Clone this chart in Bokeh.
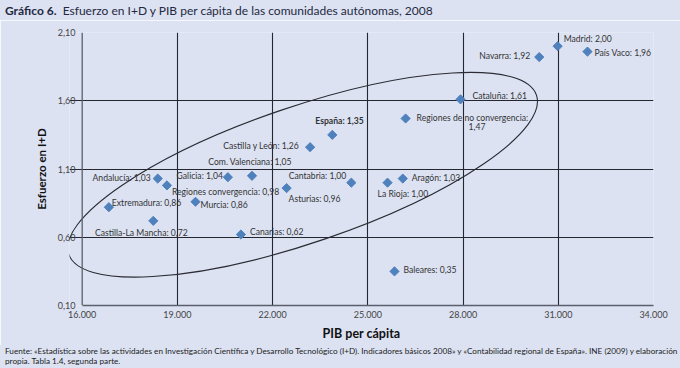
from bokeh.plotting import figure
from bokeh.models import ColumnDataSource, Range1d, FixedTicker, Span, Div
from bokeh.layouts import column
from bokeh.core.properties import value
from bokeh.embed import file_html
from bokeh.resources import INLINE

# ---------------- data ----------------
regiones = ["Madrid", "País Vaco", "Navarra", "Cataluña", "Regiones de no convergencia",
            "España", "Castilla y León", "Com. Valenciana", "Galicia", "Andalucía",
            "Regiones convergencia", "Cantabria", "Asturias", "Aragón", "La Rioja",
            "Extremadura", "Murcia", "Castilla-La Mancha", "Canarias", "Baleares"]
pib_per_capita = [30980, 31920, 30400, 27920, 26190,
                  23880, 23180, 21350, 20590, 18380,
                  18670, 24480, 22440, 26100, 25620,
                  16840, 19570, 18240, 21000, 25840]
esfuerzo_id = [2.00, 1.96, 1.92, 1.61, 1.47,
               1.35, 1.26, 1.05, 1.04, 1.03,
               0.98, 1.00, 0.96, 1.03, 1.00,
               0.82, 0.86, 0.72, 0.62, 0.35]
valor_rotulo = ["2,00", "1,96", "1,92", "1,61", "1,47",
                "1,35", "1,26", "1,05", "1,04", "1,03",
                "0,98", "1,00", "0,96", "1,03", "1,00",
                "0,86", "0,86", "0,72", "0,62", "0,35"]

x_ticks = [16000, 19000, 22000, 25000, 28000, 31000, 34000]
x_tick_labels = ["16.000", "19.000", "22.000", "25.000", "28.000", "31.000", "34.000"]
y_ticks = [0.10, 0.60, 1.10, 1.60, 2.10]
y_tick_labels = ["0,10", "0,60", "1,10", "1,60", "2,10"]

titulo_num = "Gráfico 6."
titulo = "Esfuerzo en I+D y PIB per cápita de las comunidades autónomas, 2008"
eje_x = "PIB per cápita"
eje_y = "Esfuerzo en I+D"
fuente_1 = ("Fuente: «Estadística sobre las actividades en Investigación Científica y Desarrollo "
            "Tecnológico (I+D). Indicadores básicos 2008» y «Contabilidad regional de España». "
            "INE (2009) y elaboración")
fuente_2 = "propia. Tabla 1.4, segunda parte."

# ellipse highlighting the convergence group (centre in data units, size in px)
elipse_x, elipse_y = 22945, 1.058
elipse_w, elipse_h, elipse_ang = 494, 136, 0.328

# ---------------- styles ----------------
FONT = "Lato"
BG = "#dce2f2"
TXT = "#333333"
MARK = "#4f81bd"
AXIS = "#5a5f6b"
GRID = "#24272f"

# label placement: (align, dx, dy) in screen px
placement = {
    "Madrid": ("left", 6, -7), "País Vaco": ("left", 7, 1), "Navarra": ("right", -9, -1),
    "Cataluña": ("left", 12, -3), "Regiones de no convergencia": ("left", 11, 0),
    "España": ("left", -17, -14), "Castilla y León": ("right", -11, -1),
    "Com. Valenciana": ("center", -2, -14), "Galicia": ("right", -5, -1),
    "Andalucía": ("right", -7, -1), "Regiones convergencia": ("left", 5, 7),
    "Cantabria": ("right", -5, -7), "Asturias": ("left", 2, 11), "Aragón": ("left", 9, -1),
    "La Rioja": ("left", -10, 11), "Extremadura": ("left", 3, -4), "Murcia": ("left", 5, 3),
    "Castilla-La Mancha": ("center", -12, 12), "Canarias": ("left", 9, -3),
    "Baleares": ("left", 9, -1),
}

txt_x, txt_y, txt, al, dxs, dys, fst = [], [], [], [], [], [], []
for r, xv, yv, v in zip(regiones, pib_per_capita, esfuerzo_id, valor_rotulo):
    a, dx, dy = placement[r]
    txt_x.append(xv); txt_y.append(yv)
    if r == "Regiones de no convergencia":
        txt.append(r + ":")
        al.append(a); dxs.append(dx); dys.append(dy); fst.append("normal")
        txt_x.append(xv); txt_y.append(yv); txt.append(v)
        al.append("left"); dxs.append(63); dys.append(8); fst.append("normal")
    else:
        txt.append(f"{r}: {v}")
        al.append(a); dxs.append(dx); dys.append(dy)
        fst.append("bold" if r == "España" else "normal")

pts = ColumnDataSource(dict(x=pib_per_capita, y=esfuerzo_id))
lbl = ColumnDataSource(dict(x=txt_x, y=txt_y, text=txt, align=al, dx=dxs, dy=dys, fs=fst))

p = figure(width=680, height=325, output_backend="svg", toolbar_location=None,
           x_range=Range1d(15600, 34000), y_range=Range1d(0.10, 2.10),
           min_border_left=69, min_border_right=27, min_border_top=12, min_border_bottom=40,
           background_fill_color=BG, border_fill_color=BG, outline_line_color=None,
           margin=(0, 0, 0, 0))

# grid
p.xgrid.ticker = FixedTicker(ticks=x_ticks[1:])
p.ygrid.ticker = FixedTicker(ticks=y_ticks[1:])
p.xgrid.grid_line_color = GRID
p.ygrid.grid_line_color = GRID
p.xgrid.grid_line_width = 1.1
p.ygrid.grid_line_width = 1.1
p.ygrid.bounds = (x_ticks[0], x_ticks[-1])

# left boundary line at the first x tick (visual y axis)
p.add_layout(Span(location=x_ticks[0], dimension="height", line_color=AXIS, line_width=1.3))

# axes
for ax in (p.xaxis[0], p.yaxis[0]):
    ax.major_tick_in = 0
    ax.major_tick_out = 0
    ax.minor_tick_line_color = None
    ax.major_tick_line_color = None
    ax.major_label_text_font = "Lato"
    ax.major_label_text_font_size = "9px"
    ax.major_label_text_color = "#444444"
    ax.axis_label_text_font = "Lato"
    ax.axis_label_text_font_style = "bold"
    ax.axis_label_text_color = "#111111"

p.xaxis.ticker = FixedTicker(ticks=x_ticks)
p.xaxis.major_label_overrides = {t: s for t, s in zip(x_ticks, x_tick_labels)}
p.xaxis.bounds = (x_ticks[0], x_ticks[-1])
p.xaxis.axis_line_color = AXIS
p.xaxis.axis_line_width = 1.3
p.xaxis.major_label_standoff = 5
p.xaxis.axis_label = eje_x
p.xaxis.axis_label_text_font_size = "12.5px"
p.xaxis.axis_label_standoff = 5

p.yaxis.ticker = FixedTicker(ticks=y_ticks)
p.yaxis.major_label_overrides = {t: s for t, s in zip(y_ticks, y_tick_labels)}
p.yaxis.axis_line_color = None
p.yaxis.major_label_standoff = -6
p.yaxis.axis_label = eje_y
p.yaxis.axis_label_text_font_size = "11.5px"
p.yaxis.axis_label_standoff = 7

# ellipse
p.ellipse(x=elipse_x, y=elipse_y, width=elipse_w, height=elipse_h, angle=elipse_ang,
          width_units="screen", height_units="screen",
          fill_color=None, line_color="#2b2b33", line_width=1.1)

# points
p.scatter("x", "y", source=pts, marker="square", size=6.5, angle=0.785398,
          fill_color=MARK, line_color=MARK)

# point labels
p.text("x", "y", text="text", source=lbl, text_align="align", x_offset="dx", y_offset="dy",
       text_font_style="fs", text_baseline="middle", text_font=value(FONT),
       text_font_size="8.6px", text_color=TXT)

# title and source as HTML blocks
head = Div(text=f"<b>{titulo_num}</b>&nbsp; {titulo}", width=680, height=20, margin=(0, 0, 0, 0),
           styles={"font-family": "Lato", "font-size": "12px", "color": "#1f2940",
                   "background-color": BG, "padding-left": "5px", "padding-top": "2px",
                   "box-sizing": "border-box", "white-space": "nowrap"})
foot = Div(text=f"{fuente_1}<br>{fuente_2}", width=680, height=23, margin=(0, 0, 0, 0),
           styles={"font-family": "Lato", "font-size": "8.2px", "line-height": "10px",
                   "color": "#222222", "background-color": BG, "padding-left": "5px",
                   "padding-top": "1px", "box-sizing": "border-box", "white-space": "nowrap"})

layout = column(head, p, foot, spacing=0)
open("out.html", "w").write(file_html(layout, INLINE))
